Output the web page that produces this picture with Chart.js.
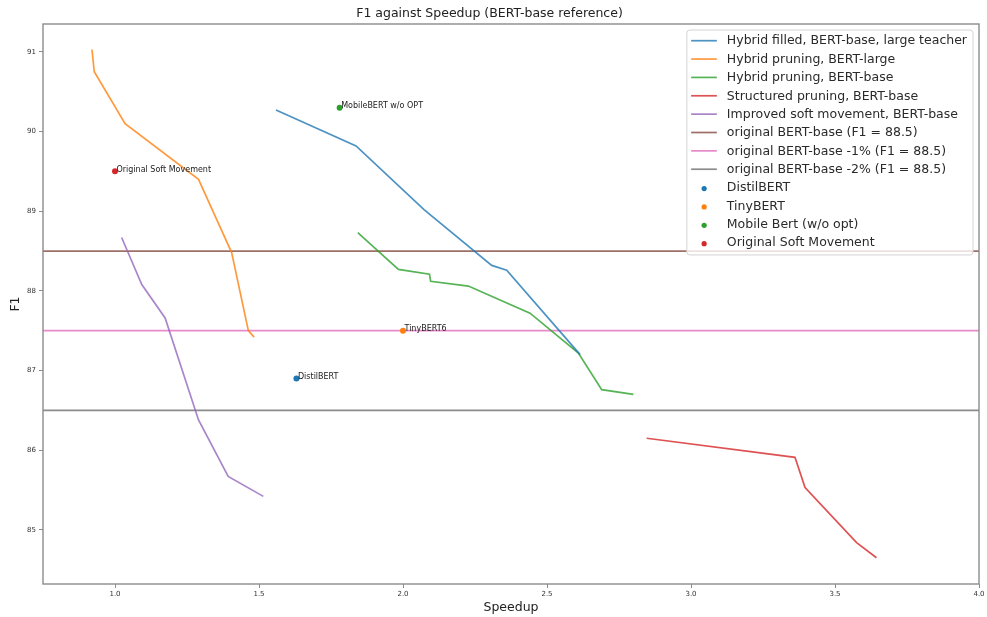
<!DOCTYPE html>
<html>
<head>
<meta charset="utf-8">
<title>F1 against Speedup</title>
<script src="https://cdn.jsdelivr.net/npm/chart.js@4.4.1/dist/chart.umd.min.js"></script>
<style>
  html, body { margin: 0; padding: 0; background: #fff; }
  #wrap { width: 987px; height: 617px; }
</style>
</head>
<body>
<div id="wrap"><canvas id="chart"></canvas></div>
<script>
// values
const hybridFilledSpeedup = [1.559, 1.837, 2.073, 2.308, 2.36, 2.615];
const hybridFilledF1 = [90.27, 89.82, 89.02, 88.32, 88.26, 87.2];

const hybridLargeSpeedup = [0.92, 0.928, 1.035, 1.29, 1.405, 1.463, 1.483];
const hybridLargeF1 = [91.03, 90.75, 90.1, 89.4, 88.48, 87.5, 87.42];

const hybridBaseSpeedup = [1.843, 1.984, 2.092, 2.096, 2.227, 2.441, 2.609, 2.69, 2.8];
const hybridBaseF1 = [88.73, 88.27, 88.21, 88.12, 88.06, 87.72, 87.22, 86.76, 86.7];

const structuredSpeedup = [2.846, 3.361, 3.396, 3.575, 3.644];
const structuredF1 = [86.15, 85.91, 85.53, 84.84, 84.65];

const improvedSoftSpeedup = [1.023, 1.093, 1.174, 1.29, 1.393, 1.515];
const improvedSoftF1 = [88.67, 88.08, 87.66, 86.38, 85.67, 85.42];

const referenceF1 = [88.5, 87.5, 86.5];
const referenceLabels = [
  'original BERT-base (F1 = 88.5)',
  'original BERT-base -1% (F1 = 88.5)',
  'original BERT-base -2% (F1 = 88.5)',
];

const modelLabels = ['DistilBERT', 'TinyBERT', 'Mobile Bert (w/o opt)', 'Original Soft Movement'];
const modelNotes = ['DistilBERT', 'TinyBERT6', 'MobileBERT w/o OPT', 'Original Soft Movement'];
const modelSpeedup = [1.63, 2.0, 1.78, 1.0];
const modelF1 = [86.9, 87.5, 90.3, 89.5];

const xTicks = [1.0, 1.5, 2.0, 2.5, 3.0, 3.5, 4.0];
const yTicks = [85, 86, 87, 88, 89, 90, 91];
const xMin = 0.75, xMax = 4.0;
const yMin = 84.32, yMax = 91.35;

const FONT = '"DejaVu Sans", "Liberation Sans", sans-serif';
Chart.defaults.font.family = FONT;

function points(xs, ys) {
  return xs.map((x, i) => ({ x: x, y: ys[i] }));
}

function curve(label, color, xs, ys) {
  return {
    label: label,
    data: points(xs, ys),
    showLine: true,
    borderColor: color,
    backgroundColor: color,
    borderWidth: 1.7,
    pointRadius: 0,
    order: 1,
  };
}

// tab10 colours, slightly softened like the reference
const refColors = ['rgba(140,86,75,0.85)', 'rgba(227,119,194,0.85)', 'rgba(127,127,127,0.9)'];
const modelColors = ['#1f77b4', '#ff7f0e', '#2ca02c', '#d62728'];

const datasets = [
  curve('Hybrid filled, BERT-base, large teacher', 'rgba(31,119,180,0.8)', hybridFilledSpeedup, hybridFilledF1),
  curve('Hybrid pruning, BERT-large', 'rgba(255,127,14,0.8)', hybridLargeSpeedup, hybridLargeF1),
  curve('Hybrid pruning, BERT-base', 'rgba(44,160,44,0.8)', hybridBaseSpeedup, hybridBaseF1),
  curve('Structured pruning, BERT-base', 'rgba(214,39,40,0.8)', structuredSpeedup, structuredF1),
  curve('Improved soft movement, BERT-base', 'rgba(148,103,189,0.8)', improvedSoftSpeedup, improvedSoftF1),
];

referenceF1.forEach((f1, i) => {
  datasets.push(curve(referenceLabels[i], refColors[i], [xMin, xMax], [f1, f1]));
});

modelLabels.forEach((label, i) => {
  datasets.push({
    label: label,
    data: [{ x: modelSpeedup[i], y: modelF1[i] }],
    showLine: false,
    backgroundColor: modelColors[i],
    borderWidth: 0,
    pointRadius: 3,
    order: 0,
  });
});

// axes frame on all four sides, like matplotlib spines
const frame = {
  id: 'frame',
  afterDatasetsDraw(chart) {
    const { ctx, chartArea: a } = chart;
    ctx.save();
    ctx.strokeStyle = '#8c8c8c';
    ctx.lineWidth = 1.4;
    ctx.strokeRect(a.left, a.top, a.right - a.left, a.bottom - a.top);
    ctx.restore();
  },
};

const pointNotes = {
  id: 'pointNotes',
  afterDatasetsDraw(chart) {
    const { ctx, scales } = chart;
    ctx.save();
    ctx.font = '8px ' + FONT;
    ctx.fillStyle = '#222';
    ctx.textBaseline = 'alphabetic';
    modelNotes.forEach((note, i) => {
      const px = scales.x.getPixelForValue(modelSpeedup[i]);
      const py = scales.y.getPixelForValue(modelF1[i]);
      ctx.fillText(note, px + 1.5, py + 0.5);
    });
    ctx.restore();
  },
};

// legend drawn inside the plot, upper right
const insideLegend = {
  id: 'insideLegend',
  afterDraw(chart) {
    const { ctx, chartArea: a } = chart;
    const sets = chart.data.datasets;
    ctx.save();
    ctx.font = '12.5px ' + FONT;
    const textWidth = Math.max(...sets.map(d => ctx.measureText(d.label).width));
    const rowH = 18.36;
    const w = 40 + textWidth + 6;
    const h = 23 + rowH * (sets.length - 1);
    const right = a.right - 6;
    const left = right - w;
    const top = a.top + 6;

    ctx.fillStyle = 'rgba(255,255,255,0.8)';
    ctx.strokeStyle = '#d4d4d4';
    ctx.lineWidth = 1;
    ctx.beginPath();
    ctx.roundRect(left, top, w, h, 3);
    ctx.fill();
    ctx.stroke();

    sets.forEach((d, i) => {
      const cy = top + 10.7 + i * rowH;
      if (d.showLine) {
        ctx.strokeStyle = d.borderColor;
        ctx.lineWidth = d.borderWidth;
        ctx.beginPath();
        ctx.moveTo(left + 4.3, cy);
        ctx.lineTo(left + 30, cy);
        ctx.stroke();
      } else {
        ctx.fillStyle = d.backgroundColor;
        ctx.beginPath();
        ctx.arc(left + 17.3, cy + 1, 2.6, 0, Math.PI * 2);
        ctx.fill();
      }
      ctx.fillStyle = '#2a2a2a';
      ctx.textBaseline = 'middle';
      ctx.fillText(d.label, left + 40, cy + 0.5);
    });
    ctx.restore();
  },
};

new Chart(document.getElementById('chart'), {
  type: 'scatter',
  data: { datasets: datasets },
  options: {
    responsive: true,
    maintainAspectRatio: false,
    animation: false,
    layout: { padding: { left: 0, right: 8, top: 0, bottom: 0 } },
    plugins: {
      legend: { display: false },
      tooltip: { enabled: false },
      title: {
        display: true,
        text: 'F1 against Speedup (BERT-base reference)',
        color: '#222',
        font: { size: 12.5, weight: 'normal' },
        padding: { top: 6, bottom: 3 },
      },
    },
    scales: {
      x: {
        type: 'linear',
        min: xMin,
        max: xMax,
        afterBuildTicks: scale => { scale.ticks = xTicks.map(v => ({ value: v })); },
        afterFit: scale => { scale.height = 33; },
        border: { display: false },
        grid: { drawOnChartArea: false, drawTicks: true, tickLength: 4, color: '#8c8c8c' },
        ticks: {
          color: '#333',
          font: { size: 7 },
          padding: 2,
          maxRotation: 0,
          callback: v => Number(v).toFixed(1),
        },
        title: {
          display: true,
          text: 'Speedup',
          color: '#222',
          font: { size: 12.5 },
          padding: { top: 0, bottom: 2 },
        },
      },
      y: {
        type: 'linear',
        min: yMin,
        max: yMax,
        afterBuildTicks: scale => { scale.ticks = yTicks.map(v => ({ value: v })); },
        afterFit: scale => { scale.width = 43; },
        border: { display: false },
        grid: { drawOnChartArea: false, drawTicks: true, tickLength: 4, color: '#8c8c8c' },
        ticks: {
          color: '#333',
          font: { size: 7 },
          padding: 3,
          callback: v => String(v),
        },
        title: {
          display: true,
          text: 'F1',
          color: '#222',
          font: { size: 12.5 },
          padding: { top: 8.5, bottom: 0 },
        },
      },
    },
  },
  plugins: [frame, pointNotes, insideLegend],
});
</script>
</body>
</html>
